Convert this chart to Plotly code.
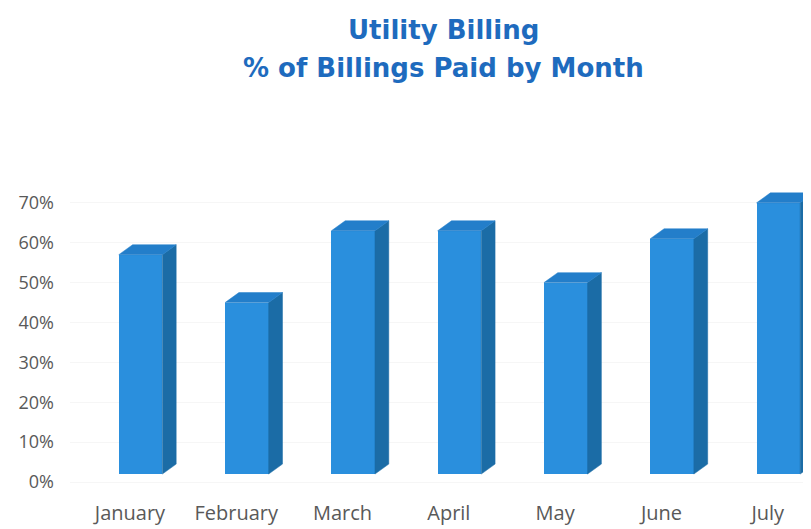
import plotly.graph_objects as go

# ---- data ----
MONTHS = ["January", "February", "March", "April", "May", "June", "July"]
PAID_PCT = [0.57, 0.45, 0.63, 0.63, 0.50, 0.61, 0.70]
Y_TICK_VALUES = [0.0, 0.1, 0.2, 0.3, 0.4, 0.5, 0.6, 0.7]
Y_TICK_LABELS = ["0%", "10%", "20%", "30%", "40%", "50%", "60%", "70%"]
TITLE_LINES = ["Utility Billing", "% of Billings Paid by Month"]

# ---- style / geometry constants (visual 3D effect) ----
BASE = 0.02        # front-face floor of the 3D bars
FRONT_OFF = 0.10   # front face centre relative to category tick
FRONT_W = 0.41     # front face width (axis units)
DX = 0.13          # depth offset x (axis units)
DY = 0.025         # depth offset y (value units)
C_FRONT = "#2A8FDD"
C_SIDE = "#1B6CA6"
C_TOP = "#237ECA"
TITLE_COLOR = "#1E6BBE"
LABEL_COLOR = "#595959"

idx = list(range(len(MONTHS)))

fig = go.Figure()

# front faces
fig.add_trace(go.Bar(
    x=[i + FRONT_OFF for i in idx],
    y=[v - BASE for v in PAID_PCT],
    base=BASE,
    width=FRONT_W,
    marker=dict(color=C_FRONT, line=dict(width=0)),
    hovertemplate="%{customdata}: %{y:.0%}<extra></extra>",
    customdata=MONTHS,
    showlegend=False,
))

# side and top faces
sx, sy, tx, ty = [], [], [], []
for i, v in zip(idx, PAID_PCT):
    xl = i + FRONT_OFF - FRONT_W / 2
    xr = i + FRONT_OFF + FRONT_W / 2
    sx += [xr, xr + DX, xr + DX, xr, xr, None]
    sy += [BASE, BASE + DY, v + DY, v, BASE, None]
    tx += [xl, xl + DX, xr + DX, xr, xl, None]
    ty += [v, v + DY, v + DY, v, v, None]

fig.add_trace(go.Scatter(x=sx, y=sy, fill="toself", fillcolor=C_SIDE,
                         mode="lines", line=dict(width=0.5, color=C_SIDE),
                         hoverinfo="skip", showlegend=False))
fig.add_trace(go.Scatter(x=tx, y=ty, fill="toself", fillcolor=C_TOP,
                         mode="lines", line=dict(width=0.5, color=C_TOP),
                         hoverinfo="skip", showlegend=False))

title_font = dict(family="DejaVu Sans", size=26, color=TITLE_COLOR, weight="bold")
fig.add_annotation(text=TITLE_LINES[0], xref="paper", yref="paper",
                   x=0.5047, y=1.3219, xanchor="center", yanchor="middle",
                   showarrow=False, font=title_font)
fig.add_annotation(text=TITLE_LINES[1], xref="paper", yref="paper",
                   x=0.5047, y=1.2137, xanchor="center", yanchor="middle",
                   showarrow=False, font=title_font)

fig.update_layout(
    width=803, height=521,
    paper_bgcolor="white", plot_bgcolor="white",
    margin=dict(l=62, r=0, t=135, b=35),
    xaxis=dict(
        range=[-0.564, 6.407],
        tickmode="array", tickvals=idx, ticktext=MONTHS,
        showgrid=False, zeroline=False, showline=False, ticks="",
        ticklabelstandoff=5,
        tickfont=dict(family="Open Sans", size=20, color=LABEL_COLOR),
    ),
    yaxis=dict(
        range=[-0.03, 0.85],
        tickmode="array", tickvals=Y_TICK_VALUES, ticktext=Y_TICK_LABELS,
        showgrid=True, gridcolor="rgba(0,0,0,0.035)", gridwidth=1,
        zeroline=False, showline=False, ticks="",
        ticklabelstandoff=15,
        tickfont=dict(family="Open Sans", size=18, color=LABEL_COLOR),
    ),
    bargap=0,
)

fig.write_html("out.html")
